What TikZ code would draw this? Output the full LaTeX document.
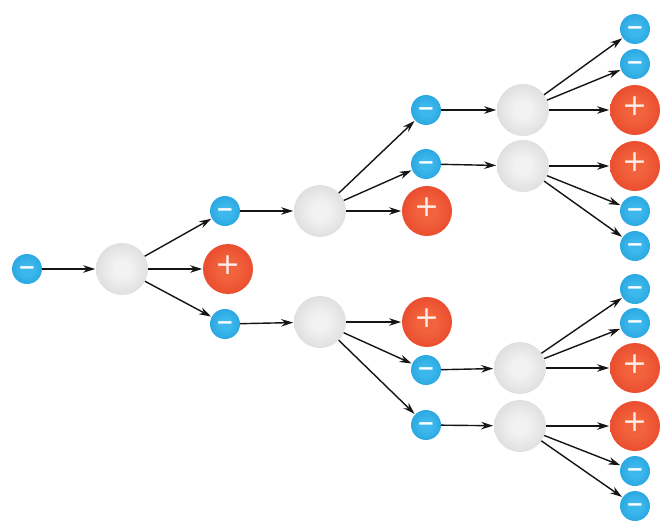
\documentclass[tikz,border=0pt]{standalone}
\usepackage{fontspec}
\usepackage{tikz}
\usetikzlibrary{arrows.meta,positioning}
\newfontfamily\signfont{DejaVu Sans}
\definecolor{negin}{HTML}{3CB8EC}
\definecolor{negout}{HTML}{1A96D6}
\definecolor{negedge}{HTML}{1580C0}
\definecolor{posin}{HTML}{F2623C}
\definecolor{posout}{HTML}{E23A22}
\definecolor{posedge}{HTML}{C42414}
\definecolor{atomin}{HTML}{F2F2F2}
\definecolor{atomout}{HTML}{CBCBCB}
\definecolor{atomedge}{HTML}{B8B8B8}
\definecolor{arrowk}{HTML}{151515}
\pgfdeclareradialshading{negshade}{\pgfpoint{0bp}{0bp}}{%
  color(0bp)=(negin); color(10bp)=(negin); color(42bp)=(negout);
  color(50bp)=(negedge); color(52bp)=(negedge)}
\pgfdeclareradialshading{posshade}{\pgfpoint{0bp}{0bp}}{%
  color(0bp)=(posin); color(10bp)=(posin); color(40bp)=(posout);
  color(50bp)=(posedge); color(52bp)=(posedge)}
\pgfdeclareradialshading{atomshade}{\pgfpoint{0bp}{0bp}}{%
  color(0bp)=(atomin); color(8bp)=(atomin); color(44bp)=(atomout);
  color(50bp)=(atomedge); color(52bp)=(atomedge)}
\tikzset{
  ball/.style    = {circle, inner sep=0pt, outer sep=0pt,
                    text height=0.58em, text depth=0pt},
  negion/.style  = {ball, shading=negshade, minimum size=0.6cm, text=white,
                    font=\signfont\bfseries\fontsize{12}{12}\selectfont},
  posion/.style  = {ball, shading=posshade, minimum size=1.0cm,
                    text=white!88!posin,
                    font=\signfont\fontsize{17}{17}\selectfont},
  atom/.style    = {ball, shading=atomshade, minimum size=1.04cm},
  flow/.style    = {-{Stealth[length=2.4mm,width=1.5mm]}, draw=arrowk,
                    line width=0.8pt, shorten >=0.5pt},
}
\begin{document}
\begin{tikzpicture}[x=0.02cm, y=-0.02cm]
  \useasboundingbox (0,0) rectangle (662,521);

  % ---------- first collision ------------------------------------------
  \node[negion] (m0)  at ( 27,269) {−};
  \node[atom]   (g1)  at (122,269) {};
  \node[negion] (m1)  at (225,211) {−};
  \node[posion] (p1)  at (228,269) {+};
  \node[negion] (m2)  at (225,324) {−};

  % ---------- second generation ----------------------------------------
  \node[atom]   (g2)  at (320,211) {};
  \node[atom]   (g3)  at (320,322) {};
  \node[negion] (m3)  at (426,110) {−};
  \node[negion] (m4)  at (426,164) {−};
  \node[posion] (p2)  at (427,211) {+};
  \node[posion] (p3)  at (427,322) {+};
  \node[negion] (m5)  at (426,370) {−};
  \node[negion] (m6)  at (426,425) {−};

  % ---------- third generation -----------------------------------------
  \node[atom]   (g4)  at (523,110) {};
  \node[atom]   (g5)  at (523,166) {};
  \node[atom]   (g6)  at (520,368) {};
  \node[atom]   (g7)  at (520,426) {};

  \node[negion] (m7)  at (635, 29) {−};
  \node[negion] (m8)  at (635, 64) {−};
  \node[posion] (p4)  at (635,110) {+};
  \node[posion] (p5)  at (635,166) {+};
  \node[negion] (m9)  at (635,211) {−};
  \node[negion] (m10) at (635,246) {−};
  \node[negion] (m11) at (635,289) {−};
  \node[negion] (m12) at (635,323) {−};
  \node[posion] (p6)  at (635,368) {+};
  \node[posion] (p7)  at (635,426) {+};
  \node[negion] (m13) at (635,471) {−};
  \node[negion] (m14) at (635,506) {−};

  % ---------- connectors -----------------------------------------------
  \foreach \a/\b in {m0/g1, g1/m1, g1/p1, g1/m2,
                     m1/g2, m2/g3, g2/m3, g2/m4, g2/p2, g3/p3, g3/m5, g3/m6,
                     m3/g4, m4/g5, m5/g6, m6/g7,
                     g4/m7, g4/m8, g4/p4, g5/p5, g5/m9, g5/m10,
                     g6/m11, g6/m12, g6/p6, g7/p7, g7/m13, g7/m14}
    \draw[flow] (\a) -- (\b);

\end{tikzpicture}
\end{document}
